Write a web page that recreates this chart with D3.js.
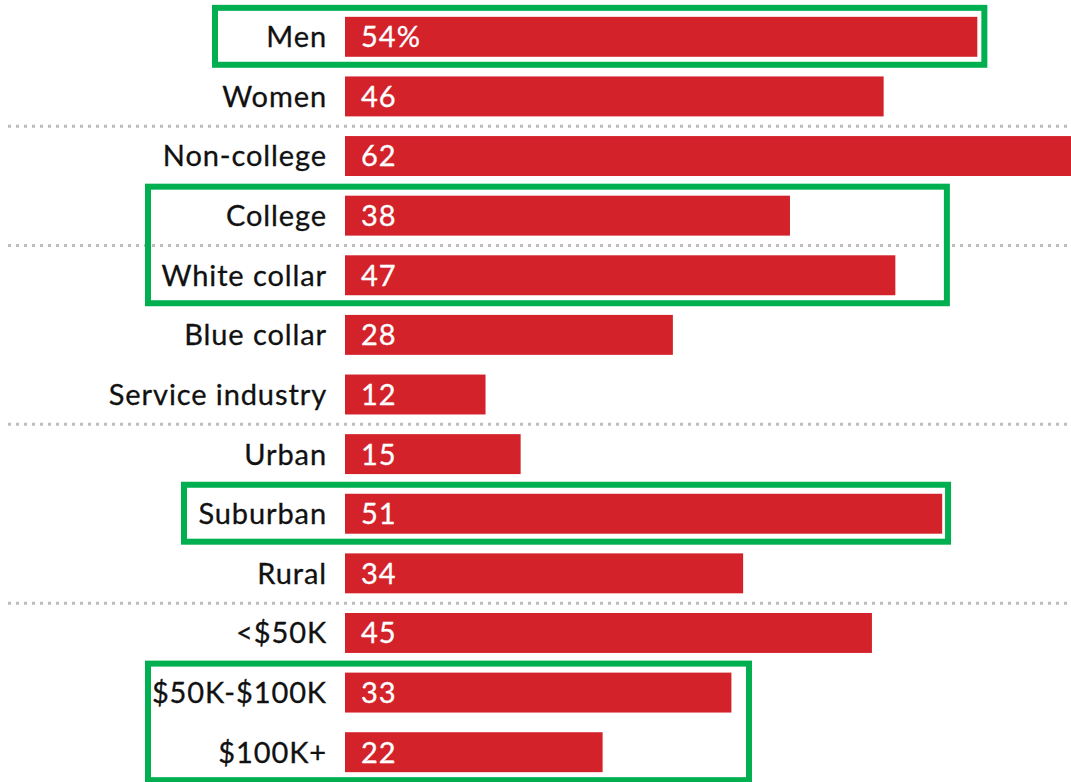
<!DOCTYPE html>
<html>
<head>
<meta charset="utf-8">
<script src="https://cdn.jsdelivr.net/npm/d3@7"></script>
<style>
  body { margin: 0; background: #fff; }
  svg { display: block; font-family: Lato, "Noto Sans", sans-serif; }
</style>
</head>
<body>
<div id="chart-area"></div>
<script>
// data
const categories = ["Men", "Women", "Non-college", "College", "White collar", "Blue collar",
  "Service industry", "Urban", "Suburban", "Rural", "<$50K", "$50K-$100K", "$100K+"]
const values = [54, 46, 62, 38, 47, 28, 12, 15, 51, 34, 45, 33, 22]
// a dotted rule is drawn after these rows
const groupEnds = ["Women", "College", "Service industry", "Rural"]
// green highlight boxes: first/last row, left edge (px left of bar axis), right edge (value units)
const boxes = [
  {from: "Men", to: "Men", left: 130, right: 54.6},
  {from: "College", to: "White collar", left: 197, right: 51.4},
  {from: "Suburban", to: "Suburban", left: 161, right: 51.5},
  {from: "$50K-$100K", to: "$100K+", left: 197, right: 34.5}
]

const cw = 1071, ch = 782

const svg = d3.select("#chart-area").append("svg")
  .attr("width", cw)
  .attr("height", ch)

const x = d3.scaleLinear()
  .domain([0, 62])
  .range([345, 1071])

const y = d3.scaleBand()
  .domain(categories)
  .range([7, 782])
  .paddingInner(0.33)
  .paddingOuter(0.165)

const data = categories.map((c, i) => ({cat: c, val: values[i]}))

// dotted separators
const gap = y.step() - y.bandwidth()
svg.selectAll(".sep")
  .data(groupEnds)
  .enter()
  .append("line")
  .attr("class", "sep")
  .attr("x1", 8)
  .attr("x2", cw)
  .attr("y1", d => y(d) + y.bandwidth() + gap / 2)
  .attr("y2", d => y(d) + y.bandwidth() + gap / 2)
  .attr("stroke", "#bdbdbd")
  .attr("stroke-width", 3)
  .attr("stroke-dasharray", "3,5")

// bars
svg.selectAll(".bar")
  .data(data)
  .enter()
  .append("rect")
  .attr("class", "bar")
  .attr("x", x(0))
  .attr("y", d => y(d.cat))
  .attr("width", d => x(d.val) - x(0))
  .attr("height", y.bandwidth())
  .attr("fill", "#d3222a")

// category labels
svg.selectAll(".label")
  .data(data)
  .enter()
  .append("text")
  .attr("class", "label")
  .attr("x", x(0) - 18)
  .attr("y", d => y(d.cat) + y.bandwidth() / 2)
  .attr("dy", "0.36em")
  .attr("text-anchor", "end")
  .attr("font-size", "29px")
  .attr("letter-spacing", "0.9px")
  .attr("fill", "#111")
  .attr("stroke", "#111")
  .attr("stroke-width", 0.3)
  .text(d => d.cat)

// value labels
svg.selectAll(".val")
  .data(data)
  .enter()
  .append("text")
  .attr("class", "val")
  .attr("x", x(0) + 16)
  .attr("y", d => y(d.cat) + y.bandwidth() / 2)
  .attr("dy", "0.36em")
  .attr("font-size", "29px")
  .attr("letter-spacing", "1px")
  .attr("fill", "#fff")
  .attr("stroke", "#fff")
  .attr("stroke-width", 0.3)
  .text((d, i) => i === 0 ? d.val + "%" : d.val)

// highlight boxes
svg.selectAll(".box")
  .data(boxes)
  .enter()
  .append("rect")
  .attr("class", "box")
  .attr("x", d => x(0) - d.left)
  .attr("y", d => y(d.from) - 9)
  .attr("width", d => x(d.right) - x(0) + d.left)
  .attr("height", d => y(d.to) + y.bandwidth() - y(d.from) + 17)
  .attr("fill", "none")
  .attr("stroke", "#00b050")
  .attr("stroke-width", 6)
</script>
</body>
</html>
